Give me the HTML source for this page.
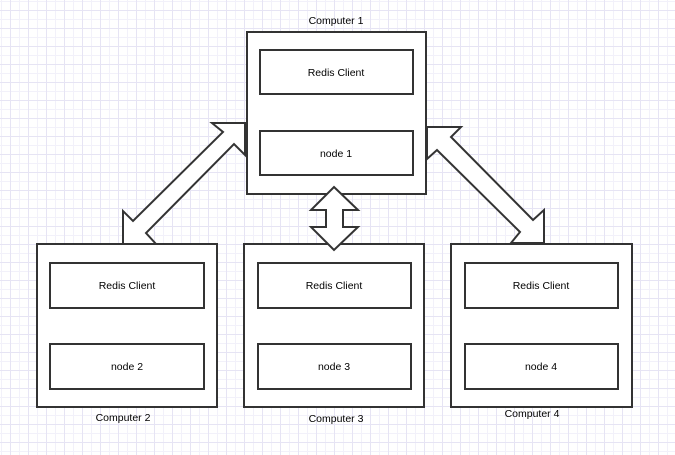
<!DOCTYPE html>
<html><head><meta charset="utf-8"><style>
html,body{margin:0;padding:0;}
body{width:675px;height:455px;overflow:hidden;background:#fff;
background-image:
linear-gradient(to right,#e6e4f4 1px,transparent 1px),
linear-gradient(to bottom,#e6e4f4 1px,transparent 1px),
linear-gradient(to right,#f2f1fa 1px,transparent 1px),
linear-gradient(to bottom,#f2f1fa 1px,transparent 1px);
background-size:18px 18px,18px 18px,9px 9px,9px 9px;
background-position:10px 10px,10px 10px,1px 1px,1px 1px;}
svg{position:absolute;left:0;top:0;}
text{font-family:"Liberation Sans",sans-serif;font-size:10.5px;fill:#000;text-anchor:middle;}
</style></head><body>
<svg width="675" height="455" viewBox="0 0 675 455">
<g fill="#fff" stroke="#333" stroke-width="2">
<rect x="247" y="32" width="179" height="162"/>
<rect x="260" y="50" width="153" height="44"/>
<rect x="260" y="131" width="153" height="44"/>
<rect x="37" y="244" width="180" height="163"/>
<rect x="50" y="263" width="154" height="45"/>
<rect x="50" y="344" width="154" height="45"/>
<rect x="244" y="244" width="180" height="163"/>
<rect x="258" y="263" width="153" height="45"/>
<rect x="258" y="344" width="153" height="45"/>
<rect x="451" y="244" width="181" height="163"/>
<rect x="465" y="263" width="153" height="45"/>
<rect x="465" y="344" width="153" height="45"/>
<polygon points="212,123 245,123 245,155 234,144 146,233 156,244 123,244 123,211 133,221 223,132"/>
<polygon points="427,127 461,127 451,137 533,220 544,210 544,243 511,243 520,232 437,150 427,159"/>
<polygon points="334,187 358,210 343,210 343,227 358,227 334,250 311,227 326,227 326,210 311,210"/>
</g>
<text x="336" y="24">Computer 1</text>
<text x="336" y="76">Redis Client</text>
<text x="336" y="157">node 1</text>
<text x="127" y="289">Redis Client</text>
<text x="127" y="370">node 2</text>
<text x="334" y="289">Redis Client</text>
<text x="334" y="370">node 3</text>
<text x="541" y="289">Redis Client</text>
<text x="541" y="370">node 4</text>
<text x="123" y="421">Computer 2</text>
<text x="336" y="422">Computer 3</text>
<text x="532" y="417">Computer 4</text>
</svg>
</body></html>
